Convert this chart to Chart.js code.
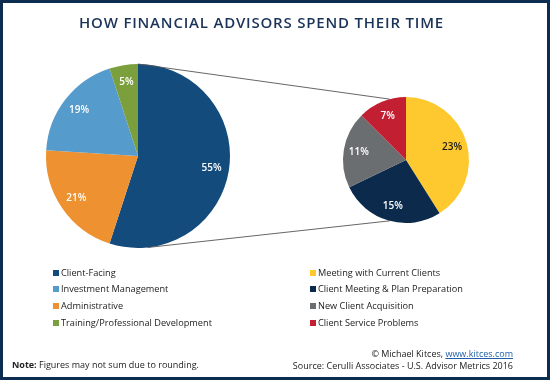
<!DOCTYPE html>
<html>
<head>
<meta charset="utf-8">
<script src="https://cdn.jsdelivr.net/npm/chart.js@4"></script>
<style>
  html, body { margin:0; padding:0; background:#fff; }
  #wrap { position:relative; width:550px; height:380px; box-sizing:border-box; border:3px solid #0d2d50; overflow:hidden; font-family:"Open Sans", sans-serif; }
  canvas { position:absolute; left:-3px; top:-3px; }
  #title { position:absolute; left:0; right:27px; top:9px; text-align:center; font-size:15px; font-weight:600; color:#1a3358; letter-spacing:0.8px; }
  .leg { position:absolute; font-size:9.2px; color:#222; white-space:nowrap; line-height:12px; }
  .leg i { display:inline-block; width:6px; height:6px; margin-right:2px; vertical-align:0px; }
  .foot { position:absolute; font-size:9px; color:#222; white-space:nowrap; line-height:11px; }
  .foot a { color:#1f5fa8; text-decoration:underline; }
</style>
</head>
<body>
<div id="wrap">
  <canvas id="c1" width="550" height="380"></canvas>
  <canvas id="c2" width="550" height="380"></canvas>
  <div id="title">HOW FINANCIAL ADVISORS SPEND THEIR TIME</div>
  <div id="legend"></div>
  <div class="foot" style="left:9px; top:356px;"><b>Note:</b> Figures may not sum due to rounding.</div>
  <div class="foot" style="right:34px; top:345px;">© Michael Kitces, <a>www.kitces.com</a></div>
  <div class="foot" style="right:34px; top:357px;">Source: Cerulli Associates - U.S. Advisor Metrics 2016</div>
</div>
<script>
// Main pie (clockwise from top)
const mainLabels = ["Client-Facing", "Administrative", "Investment Management", "Training/Professional Development"];
const mainValues = [55, 21, 19, 5];
const mainColors = ["#134b7d", "#ee9130", "#559bcb", "#7c9f3e"];
const mainLegendOrder = [0, 2, 1, 3];

// Breakdown of Client-Facing (clockwise from top)
const subLabels = ["Meeting with Current Clients", "Client Meeting & Plan Preparation", "New Client Acquisition", "Client Service Problems"];
const subValues = [23, 15, 11, 7];
const subColors = ["#fec82f", "#0c2a4c", "#6b6e70", "#c21f32"];
const subLabelColors = ["#1a1a1a", "#ffffff", "#ffffff", "#ffffff"];

const pct = v => v + "%";

function labelPlugin(frac, colors) {
  return {
    id: 'lbl',
    afterDatasetsDraw(chart) {
      const ctx = chart.ctx;
      const meta = chart.getDatasetMeta(0);
      const vals = chart.data.datasets[0].data;
      ctx.save();
      ctx.font = '600 10px "Open Sans", sans-serif';
      ctx.textAlign = 'center';
      ctx.textBaseline = 'middle';
      meta.data.forEach((arc, i) => {
        const p = arc.getProps(['startAngle','endAngle','x','y','outerRadius'], true);
        const a = (p.startAngle + p.endAngle) / 2;
        const r = p.outerRadius * frac;
        ctx.fillStyle = colors[i];
        ctx.fillText(pct(vals[i]), p.x + Math.cos(a) * r, p.y + Math.sin(a) * r);
      });
      ctx.restore();
    }
  };
}

const chart1 = new Chart(document.getElementById('c1'), {
  type: 'pie',
  data: { labels: mainLabels, datasets: [{ data: mainValues, backgroundColor: mainColors, borderWidth: 0 }] },
  options: {
    responsive: false, animation: false, events: [],
    layout: { padding: { left: 46, right: 320, top: 64, bottom: 132 } },
    plugins: { legend: { display: false }, tooltip: { enabled: false } }
  },
  plugins: [labelPlugin(0.81, mainColors.map(() => "#ffffff"))]
});

const connector = {
  id: 'connector',
  beforeDatasetsDraw(chart) {
    const big = chart1.getDatasetMeta(0).data[0].getProps(['x','y','outerRadius'], true);
    const small = chart.getDatasetMeta(0).data[0].getProps(['x','y','outerRadius'], true);
    const pt = (c, deg) => {
      const a = (deg - 90) * Math.PI / 180;
      return [c.x + Math.cos(a) * c.outerRadius, c.y + Math.sin(a) * c.outerRadius];
    };
    const ctx = chart.ctx;
    ctx.save();
    ctx.strokeStyle = '#555';
    ctx.lineWidth = 0.9;
    [[0, 345], [174, 195]].forEach(([a1, a2]) => {
      const p1 = pt(big, a1), p2 = pt(small, a2);
      ctx.beginPath(); ctx.moveTo(p1[0], p1[1]); ctx.lineTo(p2[0], p2[1]); ctx.stroke();
    });
    ctx.restore();
  }
};

new Chart(document.getElementById('c2'), {
  type: 'pie',
  data: { labels: subLabels, datasets: [{ data: subValues, backgroundColor: subColors, borderWidth: 0 }] },
  options: {
    responsive: false, animation: false, events: [],
    layout: { padding: { left: 343, right: 81, top: 97, bottom: 157 } },
    plugins: { legend: { display: false }, tooltip: { enabled: false } }
  },
  plugins: [connector, labelPlugin(0.76, subLabelColors)]
});

// HTML legend
const legend = document.getElementById('legend');
const rowsY = [264, 280, 297, 314];
mainLegendOrder.forEach((idx, r) => {
  const d = document.createElement('div');
  d.className = 'leg';
  d.style.left = '50px'; d.style.top = rowsY[r] + 'px';
  d.innerHTML = '<i style="background:' + mainColors[idx] + '"></i>' + mainLabels[idx];
  legend.appendChild(d);
});
subLabels.forEach((lab, r) => {
  const d = document.createElement('div');
  d.className = 'leg';
  d.style.left = '307px'; d.style.top = rowsY[r] + 'px';
  d.innerHTML = '<i style="background:' + subColors[r] + '"></i>' + lab.replace('&', '&amp;');
  legend.appendChild(d);
});
</script>
</body>
</html>
